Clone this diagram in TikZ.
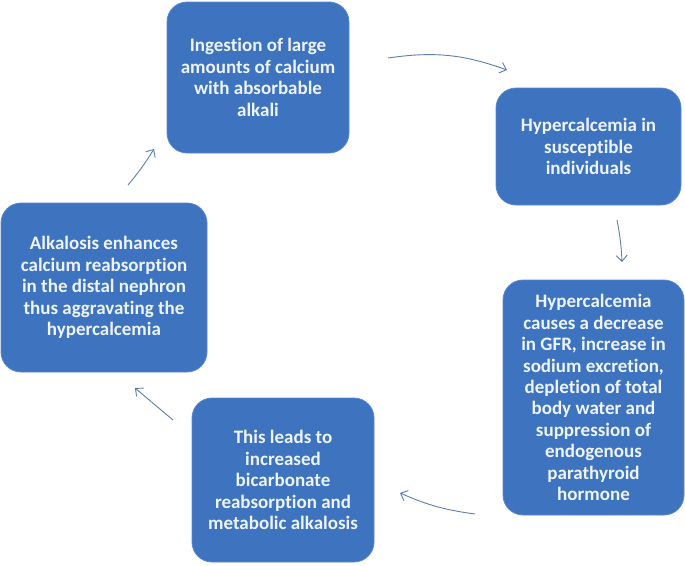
\documentclass[tikz,border=0pt]{standalone}
\usepackage{fontspec}
\setmainfont{Carlito}[Ligatures=NoCommon]
\usetikzlibrary{arrows.meta}
\definecolor{boxblue}{HTML}{3E73BF}
\definecolor{boxedge}{HTML}{5A88CC}
\definecolor{arrowc}{HTML}{5D7EA8}
\definecolor{txt}{HTML}{EEF4FC}
\tikzset{
  stage/.style={rectangle, rounded corners=20pt, fill=boxblue, draw=boxedge, line width=0.8pt,
    text=txt, align=center, inner sep=0pt,
    font=\fontsize{19pt}{21.4pt}\selectfont\bfseries},
  flow/.style={draw=arrowc, line width=0.9pt, -{Straight Barb[length=6pt,width=11pt]}}
}
\begin{document}
\begin{tikzpicture}[x=1pt,y=-1pt]
\useasboundingbox (0,0) rectangle (685,565);
\node[stage, minimum width=182pt, minimum height=151pt] (n1) at (258,77.5)
  {Ingestion of large\\amounts of calcium\\with absorbable\\alkali};
\node[stage, minimum width=185pt, minimum height=117pt] (n2) at (588.5,146.5)
  {Hypercalcemia in\\susceptible\\individuals};
\node[stage, minimum width=181pt, minimum height=235pt] (n3) at (593.5,397.5)
  {Hypercalcemia\\causes a decrease\\in GFR, increase in\\sodium excretion,\\depletion of total\\body water and\\suppression of\\endogenous\\parathyroid\\hormone};
\node[stage, minimum width=182pt, minimum height=164pt] (n4) at (283,480)
  {This leads to\\increased\\bicarbonate\\reabsorption and\\metabolic alkalosis};
\node[stage, minimum width=206pt, minimum height=169pt] (n5) at (104,287.5)
  {Alkalosis enhances\\calcium reabsorption\\in the distal nephron\\thus aggravating the\\hypercalcemia};
\coordinate (a1s) at (388,58);  \coordinate (a1e) at (507,70);
\coordinate (a2s) at (617,220); \coordinate (a2e) at (622,262);
\coordinate (a3s) at (475,514); \coordinate (a3e) at (400,493);
\coordinate (a4s) at (173,420); \coordinate (a4e) at (135,388);
\coordinate (a5s) at (128,185); \coordinate (a5e) at (154,149);
\draw[flow] (a1s) to[bend left=14] (a1e);
\draw[flow] (a2s) to[bend left=4] (a2e);
\draw[flow] (a3s) to[bend left=8] (a3e);
\draw[flow] (a4s) -- (a4e);
\draw[flow] (a5s) to[bend right=4] (a5e);
\end{tikzpicture}
\end{document}
